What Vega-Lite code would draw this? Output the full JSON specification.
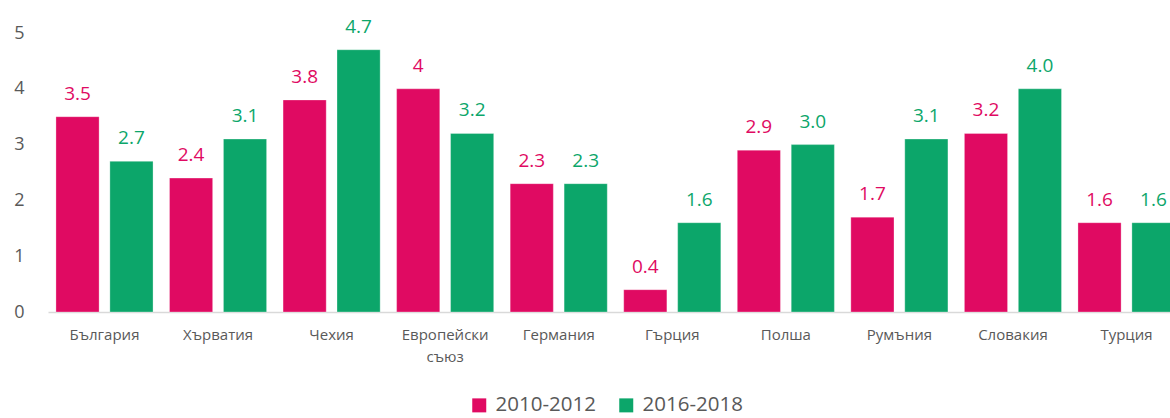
{
  "$schema": "https://vega.github.io/schema/vega-lite/v6.json",
  "autosize": "none",
  "width": 1135,
  "height": 279,
  "padding": {"left": 48, "top": 33, "right": 0, "bottom": 106},
  "background": "white",
  "config": {
    "view": {"stroke": null},
    "font": "Open Sans"
  },
  "data": {
    "values": [
      {"country": "България", "period": "2010-2012", "value": 3.5, "label": "3.5"},
      {"country": "България", "period": "2016-2018", "value": 2.7, "label": "2.7"},
      {"country": "Хърватия", "period": "2010-2012", "value": 2.4, "label": "2.4"},
      {"country": "Хърватия", "period": "2016-2018", "value": 3.1, "label": "3.1"},
      {"country": "Чехия", "period": "2010-2012", "value": 3.8, "label": "3.8"},
      {"country": "Чехия", "period": "2016-2018", "value": 4.7, "label": "4.7"},
      {"country": "Европейски съюз", "period": "2010-2012", "value": 4.0, "label": "4"},
      {"country": "Европейски съюз", "period": "2016-2018", "value": 3.2, "label": "3.2"},
      {"country": "Германия", "period": "2010-2012", "value": 2.3, "label": "2.3"},
      {"country": "Германия", "period": "2016-2018", "value": 2.3, "label": "2.3"},
      {"country": "Гърция", "period": "2010-2012", "value": 0.4, "label": "0.4"},
      {"country": "Гърция", "period": "2016-2018", "value": 1.6, "label": "1.6"},
      {"country": "Полша", "period": "2010-2012", "value": 2.9, "label": "2.9"},
      {"country": "Полша", "period": "2016-2018", "value": 3.0, "label": "3.0"},
      {"country": "Румъния", "period": "2010-2012", "value": 1.7, "label": "1.7"},
      {"country": "Румъния", "period": "2016-2018", "value": 3.1, "label": "3.1"},
      {"country": "Словакия", "period": "2010-2012", "value": 3.2, "label": "3.2"},
      {"country": "Словакия", "period": "2016-2018", "value": 4.0, "label": "4.0"},
      {"country": "Турция", "period": "2010-2012", "value": 1.6, "label": "1.6"},
      {"country": "Турция", "period": "2016-2018", "value": 1.6, "label": "1.6"}
    ]
  },
  "encoding": {
    "x": {
      "field": "country",
      "type": "nominal",
      "sort": null,
      "scale": {"paddingInner": 0.145, "paddingOuter": 0.07},
      "axis": {
        "title": null,
        "labelAngle": 0,
        "labelExpr": "split(datum.label, ' ')",
        "labelFontSize": 15,
        "labelColor": "#595959",
        "labelPadding": 15,
        "labelLineHeight": 22,
        "ticks": false,
        "domainColor": "#d9d9d9",
        "domainWidth": 1.5,
        "grid": false
      }
    },
    "xOffset": {
      "field": "period",
      "type": "nominal",
      "scale": {"paddingInner": 0.2}
    },
    "y": {
      "field": "value",
      "type": "quantitative",
      "scale": {"domain": [0, 5], "nice": false},
      "axis": {
        "title": null,
        "values": [0, 1, 2, 3, 4, 5],
        "grid": false,
        "domain": false,
        "ticks": false,
        "labelFontSize": 18,
        "labelColor": "#595959",
        "labelPadding": 24,
        "labelAlign": "right"
      }
    }
  },
  "layer": [
    {
      "mark": {"type": "bar", "stroke": "white", "strokeWidth": 0.5, "strokeOpacity": 0.6},
      "encoding": {
        "color": {
          "field": "period",
          "type": "nominal",
          "scale": {"domain": ["2010-2012", "2016-2018"], "range": ["#e00a62", "#0ca66a"]},
          "legend": {
            "title": null,
            "orient": "none",
            "direction": "horizontal",
            "legendX": 421,
            "legendY": 362,
            "symbolType": "square",
            "symbolSize": 196,
            "symbolStrokeWidth": 0,
            "labelFontSize": 20.5,
            "labelColor": "#595959",
            "columnPadding": 20,
            "labelOffset": 6
          }
        }
      }
    },
    {
      "mark": {"type": "text", "baseline": "bottom", "dy": -13, "fontSize": 19},
      "encoding": {
        "text": {"field": "label"},
        "color": {"field": "period", "type": "nominal", "legend": null}
      }
    }
  ]
}
